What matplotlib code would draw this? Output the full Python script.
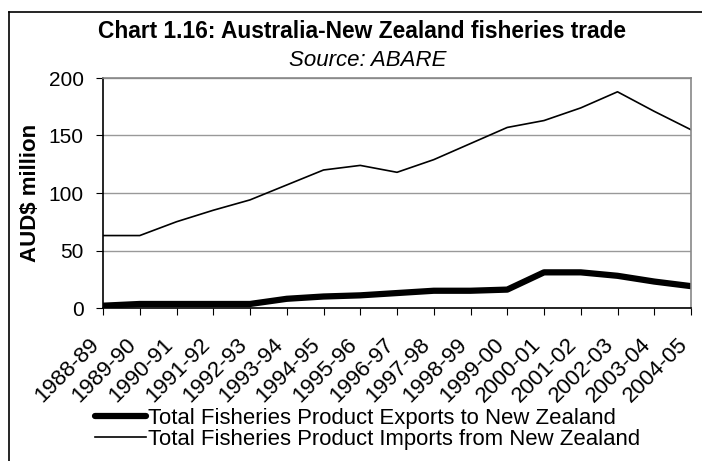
import numpy as np
import matplotlib
matplotlib.use("Agg")
import matplotlib.pyplot as plt
from matplotlib.lines import Line2D
from matplotlib.transforms import ScaledTranslation

plt.rcParams['font.family'] = ['Liberation Sans', 'DejaVu Sans']

years = ["1988-89", "1989-90", "1990-91", "1991-92", "1992-93", "1993-94",
         "1994-95", "1995-96", "1996-97", "1997-98", "1998-99", "1999-00",
         "2000-01", "2001-02", "2002-03", "2003-04", "2004-05"]
exports = [2, 3.5, 3.5, 3.5, 3.5, 8, 10, 11, 13, 15, 15, 16, 31, 31, 28, 23, 19]
imports = [63, 63, 75, 85, 94, 107, 120, 124, 118, 129, 143, 157, 163, 174, 188, 171, 155]

fig = plt.figure(figsize=(7.02, 4.61), dpi=100)
ax = fig.add_axes([103/702, 1-308/461, (691-103)/702, (308-78)/461])

x = np.arange(len(years))
ax.plot(x, exports, color="black", lw=4.5, solid_capstyle="round",
        label="Total Fisheries Product Exports to New Zealand")
ax.plot(x, imports, color="black", lw=1.2,
        label="Total Fisheries Product Imports from New Zealand")

ax.set_xlim(0, len(years) - 1)
ax.set_ylim(0, 200)
ax.set_yticks([0, 50, 100, 150, 200])
ax.yaxis.grid(True, color="#999999", lw=1)
ax.set_axisbelow(True)
ax.set_xticks(x)
ax.set_xticklabels([])
ax.tick_params(axis="y", labelsize=15, length=5, direction="out", color="black", pad=9)
ax.tick_params(axis="x", length=5, direction="out")

# rotated category labels, shifted like the Excel original
lab_tr = ax.get_xaxis_transform() + ScaledTranslation(-0.14, -0.26, fig.dpi_scale_trans)
for xi, yr in zip(x, years):
    ax.text(xi, 0, yr, transform=lab_tr, rotation=45, ha="right", va="top",
            rotation_mode="anchor", fontsize=16, clip_on=False)

for side in ["top", "right"]:
    ax.spines[side].set_color("#888888")
    ax.spines[side].set_linewidth(1.2)
for side in ["left", "bottom"]:
    ax.spines[side].set_color("black")
    ax.spines[side].set_linewidth(1.2)

ax.set_ylabel("AUD$ million", fontsize=16, fontweight="bold", labelpad=5.5)

fig.text(362/702, 1-32/461, "Chart 1.16: Australia-New Zealand fisheries trade",
         ha="center", va="center", fontsize=16.4, fontweight="bold")
fig.text(368/702, 1-60/461, "Source: ABARE", ha="center", va="center",
         fontsize=16, style="italic")

fig.legend(loc="center left", bbox_to_anchor=(95/702, 1-429/461), frameon=False,
           fontsize=15.9, handlelength=2.3, handletextpad=0.1, labelspacing=0.0,
           borderaxespad=0, borderpad=0)

# chart area frame (clipped at right and bottom)
fig.add_artist(Line2D([9/702, 9/702], [0, 1-12/461], color="black", lw=1.2,
                      transform=fig.transFigure))
fig.add_artist(Line2D([9/702, 1], [1-12/461, 1-12/461], color="black", lw=1.2,
                      transform=fig.transFigure))

fig.savefig("out.png", dpi=100)
